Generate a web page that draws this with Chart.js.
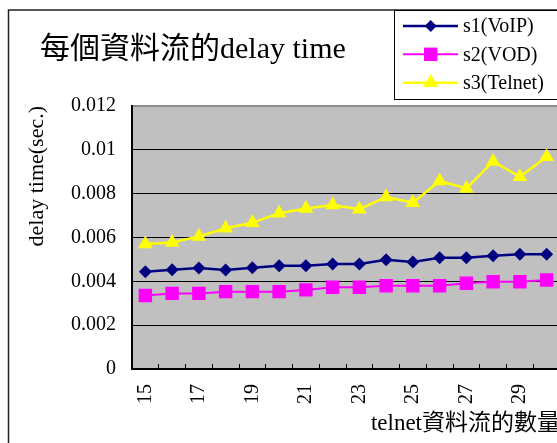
<!DOCTYPE html>
<html>
<head>
<meta charset="utf-8">
<script src="https://cdn.jsdelivr.net/npm/chart.js@4/dist/chart.umd.min.js"></script>
<style>
  html, body { margin: 0; padding: 0; background: #fff; overflow: hidden; }
  #wrap { width: 557px; height: 443px; overflow: hidden; position: relative; }
  canvas { position: absolute; left: 0; top: 0; }
</style>
</head>
<body>
<div id="wrap"><canvas id="delayChart" width="580" height="443"></canvas></div>
<script>
const categorias = ['15', '16', '17', '18', '19', '20', '21', '22', '23', '24', '25', '26', '27', '28', '29', '30'];
const voip = [0.00444, 0.00453, 0.00461, 0.00452, 0.00462, 0.00471, 0.00471, 0.00479, 0.00479, 0.00498, 0.00488, 0.00508, 0.00508, 0.00517, 0.00524, 0.00524];
const vod = [0.00335, 0.00345, 0.00345, 0.00353, 0.00353, 0.00353, 0.00361, 0.00373, 0.00373, 0.00380, 0.00380, 0.00380, 0.00391, 0.00398, 0.00398, 0.00406];
const telnet = [0.00570, 0.00577, 0.00605, 0.00642, 0.00667, 0.00711, 0.00732, 0.00748, 0.00729, 0.00785, 0.00759, 0.00858, 0.00824, 0.00947, 0.00877, 0.00968];
const yTickLabels = ['0', '0.002', '0.004', '0.006', '0.008', '0.01', '0.012'];

const serif = '"Liberation Serif", "Noto Sans CJK TC", serif';

// fondo gris del área de trazado
const fondoPlot = {
    id: 'fondoPlot',
    beforeDraw(chart) {
        const { ctx, chartArea: a } = chart;
        ctx.save();
        ctx.fillStyle = '#c0c0c0';
        ctx.fillRect(a.left, a.top, a.right - a.left, a.bottom - a.top);
        ctx.restore();
    }
};

// marco exterior, título y leyenda con recuadro
const decoracion = {
    id: 'decoracion',
    afterDraw(chart) {
        const ctx = chart.ctx;
        ctx.save();
        ctx.strokeStyle = '#222';
        ctx.lineWidth = 1.5;
        ctx.strokeRect(8.5, 10, 700, 600);

        ctx.fillStyle = '#000';
        ctx.font = '30px ' + serif;
        ctx.textBaseline = 'alphabetic';
        ctx.textAlign = 'left';
        ctx.fillText('每個資料流的delay time', 40, 58);

        ctx.fillStyle = '#fff';
        ctx.fillRect(394.5, 10.5, 300, 89);
        ctx.strokeStyle = '#000';
        ctx.lineWidth = 1;
        ctx.strokeRect(394.5, 10.5, 300, 89);

        const filas = [26, 54.3, 82.7];
        chart.data.datasets.forEach((ds, i) => {
            const y = filas[i];
            ctx.strokeStyle = ds.borderColor;
            ctx.lineWidth = ds.borderWidth;
            ctx.beginPath();
            ctx.moveTo(403, y);
            ctx.lineTo(458, y);
            ctx.stroke();
            ctx.fillStyle = ds.pointBackgroundColor;
            ctx.strokeStyle = ds.pointBorderColor;
            Chart.helpers.drawPoint(ctx, {
                pointStyle: ds.pointStyle,
                radius: ds.legendRadius,
                rotation: 0,
                borderWidth: 0
            }, 430.7, y);
            ctx.fillStyle = '#000';
            ctx.font = '20px ' + serif;
            ctx.textBaseline = 'middle';
            ctx.fillText(ds.label, 463, y + 1);
        });
        ctx.restore();
    }
};

const ctx = document.getElementById('delayChart').getContext('2d');
new Chart(ctx, {
    type: 'line',
    data: {
        labels: categorias,
        datasets: [
            {
                label: 's1(VoIP)',
                data: voip,
                borderColor: '#000080',
                borderWidth: 2.5,
                pointStyle: 'rectRot',
                pointRadius: 6.5,
                legendRadius: 6,
                pointBackgroundColor: '#000080',
                pointBorderColor: '#000080',
                pointBorderWidth: 0
            },
            {
                label: 's2(VOD)',
                data: vod,
                borderColor: '#ff00ff',
                borderWidth: 2,
                pointStyle: 'rect',
                pointRadius: 9.5,
                legendRadius: 9.5,
                pointBackgroundColor: '#ff00ff',
                pointBorderColor: '#ff00ff',
                pointBorderWidth: 0
            },
            {
                label: 's3(Telnet)',
                data: telnet,
                borderColor: '#ffff00',
                borderWidth: 2.5,
                pointStyle: 'triangle',
                pointRadius: 8.5,
                legendRadius: 8.7,
                pointBackgroundColor: '#ffff00',
                pointBorderColor: '#ffff00',
                pointBorderWidth: 0
            }
        ]
    },
    options: {
        responsive: false,
        animation: false,
        devicePixelRatio: 1,
        layout: { padding: { left: 8, top: 106, right: 20, bottom: 0 } },
        elements: { line: { tension: 0 } },
        plugins: {
            legend: { display: false },
            title: { display: false },
            tooltip: { enabled: false }
        },
        scales: {
            x: {
                offset: true,
                afterFit(scale) {
                    scale.height = 74;
                    scale.paddingLeft = 0;
                    scale.paddingRight = 0;
                },
                grid: {
                    offset: true,
                    drawOnChartArea: false,
                    drawTicks: true,
                    tickLength: -5,
                    color: '#000',
                    lineWidth: 1
                },
                border: { display: true, color: '#000', width: 2 },
                ticks: {
                    autoSkip: false,
                    minRotation: 90,
                    maxRotation: 90,
                    padding: 20,
                    color: '#000',
                    font: { family: serif, size: 20 },
                    callback: (v, i) => i % 2 === 0 ? categorias[i] : ''
                },
                title: {
                    display: true,
                    text: 'telnet資料流的數量',
                    align: 'end',
                    color: '#000',
                    font: { family: serif, size: 23 },
                    padding: { top: 0, bottom: 5 }
                }
            },
            y: {
                min: 0,
                max: 0.012,
                afterFit(scale) {
                    scale.width = 124;
                    scale.paddingTop = 0;
                    scale.paddingBottom = 0;
                },
                ticks: {
                    stepSize: 0.002,
                    padding: 16,
                    color: '#000',
                    font: { family: serif, size: 20 },
                    callback: (v, i) => yTickLabels[i]
                },
                grid: {
                    drawTicks: false,
                    color: c => c.index === yTickLabels.length - 1 ? '#8c8c8c' : '#000',
                    lineWidth: c => c.index === yTickLabels.length - 1 ? 2 : 1
                },
                border: { display: true, color: '#000', width: 2 },
                title: {
                    display: true,
                    text: 'delay time(sec.)',
                    align: 'end',
                    color: '#000',
                    font: { family: serif, size: 22 },
                    padding: { top: 16, bottom: 0 }
                }
            }
        }
    },
    plugins: [fondoPlot, decoracion]
});
</script>
</body>
</html>
